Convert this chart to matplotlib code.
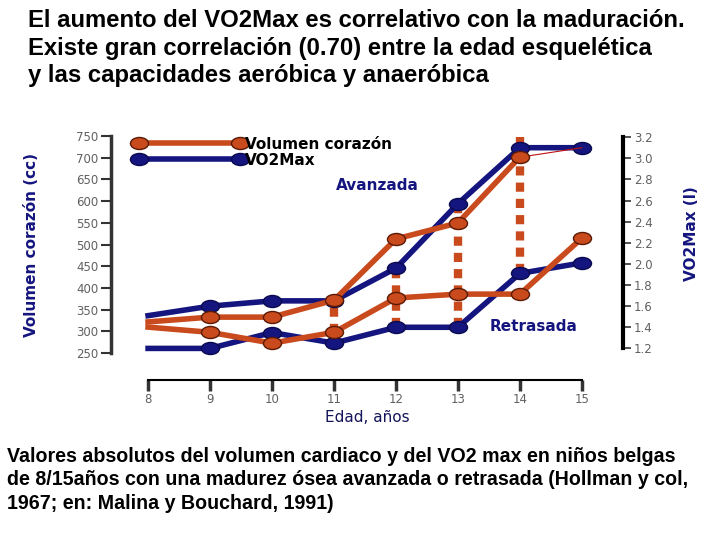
import numpy as np
import matplotlib
matplotlib.use("Agg")
import matplotlib.pyplot as plt
from matplotlib.path import Path
from matplotlib.transforms import Affine2D
from matplotlib.lines import Line2D

# datos
edad = [8, 9, 10, 11, 12, 13, 14, 15]
vol_avanzada = [322, 333, 333, 372, 513, 550, 702]          # cc, edades 8-14
vol_retrasada = [310, 298, 273, 298, 377, 386, 386, 515]    # cc
vo2_avanzada = [1.51, 1.60, 1.65, 1.65, 1.96, 2.57, 3.10, 3.10]   # l
vo2_retrasada = [1.20, 1.20, 1.35, 1.25, 1.40, 1.40, 1.91, 2.01]  # l
# conectores punteados (edad, vo2 arriba, vo2 abajo)
conect_edad = [11, 12, 13, 14]
conect_top = [1.65, 1.96, 2.57, 3.20]
conect_bot = [1.35, 1.40, 1.40, 1.91]

naranja = "#C94A1C"
azul = "#15157F"
oscuro = "#14145A"

elipse = Path.unit_circle().transformed(Affine2D().scale(1.5, 1.0))
estilo_n = dict(color=naranja, lw=4, marker=elipse, ms=13, mfc=naranja, mec="#5A1A05")
estilo_a = dict(color=azul, lw=4, marker=elipse, ms=13, mfc=azul, mec="#0A0A50")

fig = plt.figure(figsize=(7.2, 5.4), dpi=100)
ax = fig.add_axes([0.154, 0.346, 0.711, 0.402])
ax2 = ax.twinx()

ax.set_xlim(7.4, 15.66)
ax.set_ylim(250, 750)
ax2.set_ylim(1.155, 3.21)

# conectores punteados
for x, t, b in zip(conect_edad, conect_top, conect_bot):
    ax2.plot([x, x], [b, t], color=naranja, lw=6, ls=(0, (1.1, 0.85)),
             zorder=1, clip_on=False)

ax2.plot(edad, vo2_avanzada, markevery=slice(1, None), zorder=2, clip_on=False, **estilo_a)
ax2.plot(edad, vo2_retrasada, markevery=slice(1, None), zorder=2, clip_on=False, **estilo_a)
# linea fina roja de 14 a 15
ax2.plot([14, 15], [3.01, 3.10], color="#C01010", lw=0.8, zorder=3)

ax.set_zorder(ax2.get_zorder() + 1)
ax.patch.set_visible(False)
ax.plot(edad[:7], vol_avanzada, markevery=slice(1, None), zorder=3, clip_on=False, **estilo_n)
ax.plot(edad, vol_retrasada, markevery=slice(1, None), zorder=3, clip_on=False, **estilo_n)

# ejes
ax.spines["top"].set_visible(False)
ax2.spines["top"].set_visible(False)
ax.spines["right"].set_visible(False)
ax2.spines["left"].set_visible(False)
ax2.spines["bottom"].set_visible(False)
ax.spines["left"].set_bounds(250, 750)
ax.spines["left"].set_linewidth(2.5)
ax.spines["left"].set_color("#333333")
ax.spines["bottom"].set_position(("outward", 19.5))
ax.spines["bottom"].set_bounds(8, 15)
ax.spines["bottom"].set_linewidth(1.5)
ax2.spines["right"].set_bounds(1.2, 3.2)
ax2.spines["right"].set_linewidth(3)

tick_font = dict(fontsize=8.5, color="#606060")
ax.set_yticks(np.arange(250, 751, 50))
ax.set_yticklabels([str(v) for v in range(250, 751, 50)], **tick_font)
ax.set_xticks(edad)
ax.set_xticklabels([str(v) for v in edad], **tick_font)
ax2.set_yticks(np.arange(1.2, 3.21, 0.2))
ax2.set_yticklabels(["%.1f" % v for v in np.arange(1.2, 3.21, 0.2)], **tick_font)
ax.tick_params(axis="y", length=7, width=1.5, color="#333333", pad=2)
ax.tick_params(axis="x", length=8, width=2.5, color="#333333", pad=1)
ax2.tick_params(axis="y", length=6, width=1.2, color="#333333", pad=2)

ax.set_ylabel("Volumen corazón (cc)", fontsize=11, fontweight="bold", color=azul)
ax.yaxis.set_label_coords(-0.14, 0.5)
ax2.set_ylabel("VO2Max (l)", fontsize=11, fontweight="bold", color=azul)
ax2.yaxis.set_label_coords(1.12, 0.55)
ax.set_xlabel("Edad, años", fontsize=11, color=oscuro, labelpad=3)

# leyenda
h1 = Line2D([0], [0], **estilo_n)
h2 = Line2D([0], [0], **estilo_a)
ax.legend([h1, h2], ["Volumen corazón", "VO2Max"], loc="upper left",
          bbox_to_anchor=(0.02, 1.06), frameon=False, handlelength=7.2,
          handletextpad=0.0, labelspacing=0.05, numpoints=2,
          prop={"weight": "bold", "size": 11})

ax.text(0.44, 0.774, "Avanzada", transform=ax.transAxes, fontsize=11,
        fontweight="bold", color=azul, va="center")
ax.text(0.74, 0.124, "Retrasada", transform=ax.transAxes, fontsize=11,
        fontweight="bold", color=azul, va="center")

fig.text(0.039, 0.983, "El aumento del VO2Max es correlativo con la maduración.\n"
         "Existe gran correlación (0.70) entre la edad esquelética\n"
         "y las capacidades aeróbica y anaeróbica",
         ha="left", va="top", fontsize=17.2, fontweight="bold",
         family="Liberation Sans", linespacing=1.25)

fig.text(0.01, 0.172, "Valores absolutos del volumen cardiaco y del VO2 max en niños belgas\n"
         "de 8/15años con una madurez ósea avanzada o retrasada (Hollman y col,\n"
         "1967; en: Malina y Bouchard, 1991)",
         ha="left", va="top", fontsize=14.1, fontweight="bold",
         family="Liberation Sans", linespacing=1.28)

fig.savefig("out.png", dpi=100)
